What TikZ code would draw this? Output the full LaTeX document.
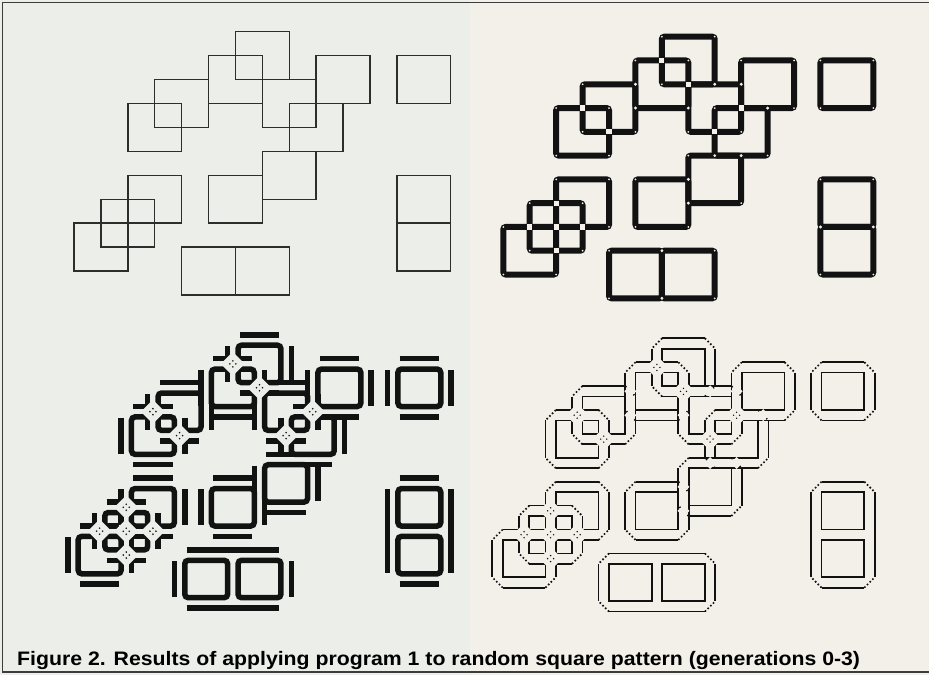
\documentclass[tikz,border=0pt]{standalone}
\usepackage{fontspec}
\setmainfont{Liberation Sans}
\definecolor{paperleft}{RGB}{236,238,233}
\definecolor{paperright}{RGB}{243,240,233}
\definecolor{ink}{RGB}{18,18,18}
\definecolor{pencil}{RGB}{45,45,45}
\definecolor{framegray}{RGB}{60,60,60}

% generation 0: squares as (left/top) in grid units, each 2x2
\newcommand{\squarelist}{6/0,5/1,3/2,2/3,7/2,9/1,8/3,7/5,5/6,2/6,1/7,0/8,4/9,6/9,12/1,12/6,12/8}
% outer rings: pairs that share an edge get one ring
\newcommand{\bloblist}{6/0/2/2,5/1/2/2,3/2/2/2,2/3/2/2,7/2/2/2,9/1/2/2,8/3/2/2,7/5/2/2,5/6/2/2,2/6/2/2,1/7/2/2,0/8/2/2,4/9/4/2,12/1/2/2,12/6/2/4}
% line crossings and T junctions
\newcommand{\crosslist}{6/1,7/2,3/3,4/4,9/3,8/4,2/7,3/8,1/8,2/9,2/8}
\newcommand{\teelist}{8/2,5/2,5/3,7/3,9/2,10/3,8/5,9/5,7/6,7/7}
\newcommand{\pairtees}{6/9,6/11,12/8,14/8}

\begin{document}
\begin{tikzpicture}[
    x=1pt, y=1pt,
    thinsq/.style={draw=pencil, line width=1.4pt},
    thicksq/.style={draw=ink, line width=6pt, rounded corners=2.5pt},
    bar/.style={draw=ink, line width=5.5pt},
    innerbar/.style={draw=ink, line width=5.5pt, rounded corners=3.5pt},
    fineline/.style={draw=ink, line width=1.7pt},
    chamfer/.style={draw=ink, line width=1.7pt, dash pattern=on 1.6pt off 2.2pt},
    caption/.style={anchor=base west, inner sep=0pt, font=\bfseries\fontsize{19.5}{22}\selectfont}
  ]
  \useasboundingbox (0,0) rectangle (929,-675);
  \fill[paperleft] (0,0) rectangle (470,-675);
  \fill[paperright] (470,0) rectangle (929,-675);

  % generation 0
  \begin{scope}[shift={(74,-31.7)}, x=26.9pt, y=-23.93pt]
    \foreach \gx/\gy in \squarelist
      \draw[thinsq] (\gx,\gy) rectangle ++(2,2);
  \end{scope}

  % generation 1
  \begin{scope}[shift={(503.3,-36.7)}, x=26.43pt, y=-23.78pt]
    \foreach \gx/\gy in \squarelist {
      \draw[thicksq] (\gx,\gy) rectangle ++(2,2);
      \foreach \cx/\cy in {0/0,2/0,0/2,2/2}
        \fill[paperright] (\gx+\cx,\gy+\cy) circle (1pt);
    }
    \foreach \gx/\gy in \crosslist
      \fill[paperright] ([xshift=-2.6pt,yshift=-2.6pt]\gx,\gy) rectangle ++(5.2pt,5.2pt);
    \foreach \gx/\gy in \teelist
      \fill[paperright] (\gx,\gy) circle (1.6pt);
    \foreach \gx/\gy in \pairtees
      \fill[paperright] (\gx,\gy) circle (1.6pt);
  \end{scope}

  % generation 2
  \begin{scope}[shift={(73,-340)}, x=26.64pt, y=-23.9pt]
    \foreach \gx/\gy in \squarelist
      \draw[innerbar] ([xshift=5.2pt,yshift=-5.2pt]\gx,\gy) rectangle ([xshift=-5.2pt,yshift=5.2pt]\gx+2,\gy+2);
    \foreach \gx/\gy/\w/\h in \bloblist {
      \draw[bar] ([xshift=7pt,yshift=5.2pt]\gx,\gy) -- ([xshift=-7pt,yshift=5.2pt]\gx+\w,\gy);
      \draw[bar] ([xshift=7pt,yshift=-5.2pt]\gx,\gy+\h) -- ([xshift=-7pt,yshift=-5.2pt]\gx+\w,\gy+\h);
      \draw[bar] ([xshift=-5.2pt,yshift=-6pt]\gx,\gy) -- ([xshift=-5.2pt,yshift=6pt]\gx,\gy+\h);
      \draw[bar] ([xshift=5.2pt,yshift=-6pt]\gx+\w,\gy) -- ([xshift=5.2pt,yshift=6pt]\gx+\w,\gy+\h);
    }
    \foreach \gx/\gy in \crosslist {
      \fill[paperleft] ([xshift=12pt]\gx,\gy) -- ([yshift=12pt]\gx,\gy) -- ([xshift=-12pt]\gx,\gy) -- ([yshift=-12pt]\gx,\gy) -- cycle;
      \foreach \a in {0,90,180,270}
        \fill[ink] ([shift={(\a:3pt)}]\gx,\gy) circle (0.9pt);
    }
  \end{scope}

  % generation 3
  \begin{scope}[shift={(497.5,-343.5)}, x=26.57pt, y=-23.9pt]
    \foreach \gx/\gy in \squarelist
      \draw[fineline] ([xshift=5.2pt,yshift=-5.2pt]\gx,\gy) rectangle ([xshift=-5.2pt,yshift=5.2pt]\gx+2,\gy+2);
    \foreach \gx/\gy/\w/\h in \bloblist {
      \draw[fineline] ([xshift=5.2pt,yshift=5.2pt]\gx,\gy) -- ([xshift=-5.2pt,yshift=5.2pt]\gx+\w,\gy);
      \draw[fineline] ([xshift=5.2pt,yshift=-5.2pt]\gx,\gy+\h) -- ([xshift=-5.2pt,yshift=-5.2pt]\gx+\w,\gy+\h);
      \draw[fineline] ([xshift=-5.2pt,yshift=-5.2pt]\gx,\gy) -- ([xshift=-5.2pt,yshift=5.2pt]\gx,\gy+\h);
      \draw[fineline] ([xshift=5.2pt,yshift=-5.2pt]\gx+\w,\gy) -- ([xshift=5.2pt,yshift=5.2pt]\gx+\w,\gy+\h);
      \draw[chamfer] ([xshift=5.2pt,yshift=5.2pt]\gx,\gy) -- ([xshift=-5.2pt,yshift=-5.2pt]\gx,\gy);
      \draw[chamfer] ([xshift=-5.2pt,yshift=5.2pt]\gx+\w,\gy) -- ([xshift=5.2pt,yshift=-5.2pt]\gx+\w,\gy);
      \draw[chamfer] ([xshift=5.2pt,yshift=-5.2pt]\gx,\gy+\h) -- ([xshift=-5.2pt,yshift=5.2pt]\gx,\gy+\h);
      \draw[chamfer] ([xshift=-5.2pt,yshift=-5.2pt]\gx+\w,\gy+\h) -- ([xshift=5.2pt,yshift=5.2pt]\gx+\w,\gy+\h);
    }
    \foreach \gx/\gy in \teelist
      \fill[paperright] ([xshift=6pt]\gx,\gy) -- ([yshift=6pt]\gx,\gy) -- ([xshift=-6pt]\gx,\gy) -- ([yshift=-6pt]\gx,\gy) -- cycle;
    \foreach \gx/\gy in \crosslist {
      \fill[paperright] ([xshift=11.5pt]\gx,\gy) -- ([yshift=11.5pt]\gx,\gy) -- ([xshift=-11.5pt]\gx,\gy) -- ([yshift=-11.5pt]\gx,\gy) -- cycle;
      \foreach \a in {0,90,180,270}
        \fill[ink] ([shift={(\a:3pt)}]\gx,\gy) circle (0.8pt);
    }
  \end{scope}

  % frame and caption
  \draw[framegray, line width=1.5pt] (929,-2.5) -- (2.5,-2.5) -- (2.5,-672) -- (929,-672);
  \node[caption, xscale=1.09] (figcaption) at (17,-665) {Figure 2. Results of applying program 1 to random square pattern (generations 0-3)};
\end{tikzpicture}
\end{document}
